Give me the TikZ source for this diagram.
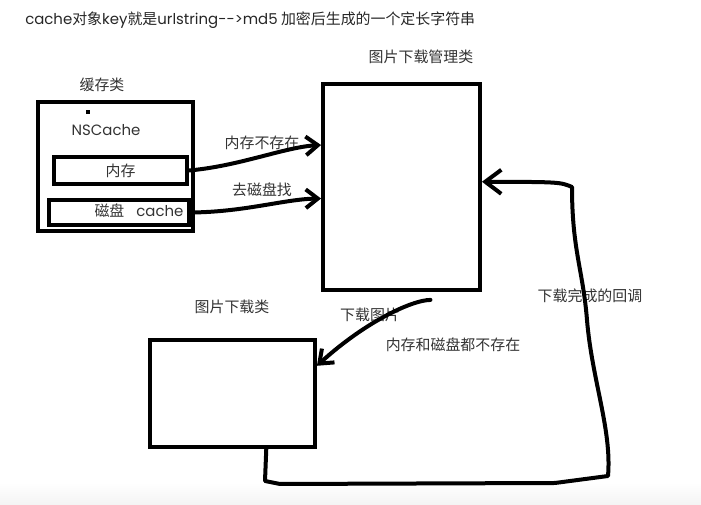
\documentclass[tikz,border=0pt]{standalone}
\usepackage{fontspec}
\usepackage{tikz}
\usetikzlibrary{arrows.meta,calc,fit}
\newfontfamily\cjkfont{Noto Sans CJK SC}
\newfontfamily\latinfont{Poppins}
\definecolor{SketchInk}{HTML}{000000}
\definecolor{SketchText}{HTML}{333333}
\definecolor{SketchFloor}{HTML}{F4F4F4}

\begin{document}
\begin{tikzpicture}[x=0.75pt,y=-0.75pt,
    sketchbox/.style={draw=SketchInk, line width=2.9pt, inner sep=0pt},
    sketchline/.style={draw=SketchInk, line width=3pt, line cap=round, line join=round},
    sketcharrow/.style={sketchline, -{Straight Barb[length=9pt,width=14pt]}},
    sketchlabel/.style={SketchText, font=\cjkfont\fontsize{11.2pt}{13pt}\selectfont, inner sep=0pt}]
        \useasboundingbox (0,0) rectangle (701,505);
        \shade[top color=white, bottom color=SketchFloor] (0,482) rectangle (701,505);
        % boxes
        \node[sketchbox, fit={(38,102) (193,231)}] (cachebox) {};
        \node[sketchbox, fit={(54,157) (187,184)}] (mem) {};
        \node[sketchbox, fit={(49,200) (189,225)}] (disk) {};
        \node[sketchbox, fit={(323,84) (480,290)}] (mgr) {};
        \node[sketchbox, fit={(150,340) (315,447)}] (dl) {};
        \fill[SketchInk] (86,110) rectangle (90,114);
        % texts
        \node[sketchlabel, anchor=west, text=black!85] (title) at (25,20)
          {{\latinfont cache}对象{\latinfont key}就是{\latinfont urlstring-{}-{}>md5} 加密后生成的一个定长字符串};
        \node[sketchlabel] (cachetitle) at (102,85) {缓存类};
        \node[sketchlabel] (nscache) at (106,130) {\latinfont NSCache};
        \node[sketchlabel] (memtext) at (mem) {内存};
        \node[sketchlabel] (disktext) at (139,211) {磁盘\hspace{9pt}{\latinfont cache}};
        \node[sketchlabel] (mgrtitle) at (421,57) {图片下载管理类};
        \node[sketchlabel] (dltitle) at (232,307) {图片下载类};
        \node[sketchlabel] (memmiss) at (262,143) {内存不存在};
        \node[sketchlabel] (diskseek) at (262,190) {去磁盘找};
        \node[sketchlabel] (fetch) at (370,315) {下载图片};
        \node[sketchlabel] (bothmiss) at (453,345) {内存和磁盘都不存在};
        \node[sketchlabel] (callback) at (590,296) {下载完成的回调};
        % connectors
        \coordinate (mgrIn1) at ($(mgr.north west)!0.30!(mgr.south west)$);
        \coordinate (mgrIn2) at ($(mgr.north west)!0.555!(mgr.south west)$);
        \coordinate (fetchStart) at ($(mgr.south west)!0.68!(mgr.south east)+(0,8)$);
        \coordinate (dlIn) at ($(dl.north east)!0.25!(dl.south east)$);
        \coordinate (cbStart) at ($(dl.south west)!0.70!(dl.south east)$);
        \coordinate (cbBL) at (265,481);
        \coordinate (cbBR) at (608,476);
        \coordinate (cbTR) at (572,187);
        \coordinate (cbEnd) at ($(mgr.north east)!0.475!(mgr.south east)$);
        \draw[sketcharrow] (mem.east) .. controls (240,166) and (285,147) .. (mgrIn1);
        \draw[sketcharrow] (disk.east) .. controls (245,212) and (285,199) .. (mgrIn2);
        \draw[sketcharrow] (fetchStart) .. controls (412,300) and (365,322) .. (dlIn);
        \draw[sketchline, -{Straight Barb[length=12pt,width=18pt]}] (cbStart) -- (cbBL)
          -- (280,484) -- (555,483) -- (cbBR)
          .. controls (612,430) and (592,380) .. (587,320)
          .. controls (583,270) and (572,250) .. (cbTR)
          .. controls (560,182) .. (cbEnd);
\end{tikzpicture}
\end{document}
